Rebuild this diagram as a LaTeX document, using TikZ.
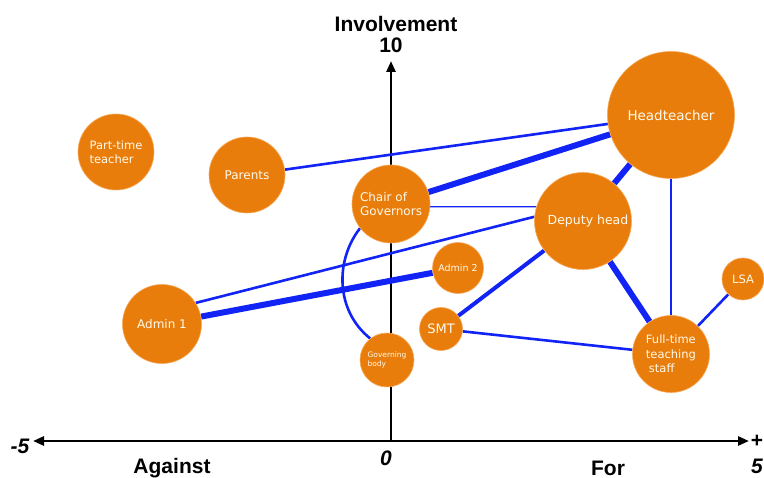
\documentclass[tikz,border=0pt]{standalone}
\usepackage{fontspec}
\newfontfamily\bubblefont{DejaVu Sans}
\newfontfamily\axisfont{Liberation Sans}
\usetikzlibrary{arrows.meta,backgrounds}
\definecolor{bubble}{RGB}{233,125,12}
\definecolor{bubbleedge}{RGB}{245,170,90}
\definecolor{tie}{RGB}{18,36,245}
\definecolor{bubbletext}{RGB}{255,250,235}
\tikzset{
  stake/.style={circle,fill=bubble,draw=bubbleedge,line width=0.6pt,inner sep=0pt,
    text=bubbletext,align=left,font=\bubblefont\fontsize{#1}{14.5}\selectfont},
  stake/.default=12,
  axlab/.style={font=\axisfont\bfseries\fontsize{21}{22}\selectfont,inner sep=0pt},
  axnum/.style={font=\axisfont\bfseries\itshape\fontsize{21}{22}\selectfont,inner sep=0pt},
  axisline/.style={line width=2.6pt,black},
  axtip/.style={-{Triangle[length=11pt,width=9pt]}},
  weak/.style={tie,line width=1.2pt},
  mid/.style={tie,line width=2.6pt},
  firm/.style={tie,line width=4pt},
  strong/.style={tie,line width=6pt},
}
\begin{document}
\begin{tikzpicture}[x=1pt,y=-1pt]
\useasboundingbox (0,0) rectangle (764,478);

% stakeholders, placed by support (x) and involvement (y)
\node[stake=11.5,minimum size=76pt] (ptt) at (116,152) {Part-time\\teacher};
\node[stake=12,minimum size=76pt] (par) at (247,175) {Parents};
\node[stake=12,minimum size=78pt] (cog) at (391,204) {Chair of\\Governors};
\node[stake=9.5,minimum size=51pt] (ad2) at (458,268) {Admin 2};
\node[stake=13,minimum size=43pt] (smt) at (441,329) {SMT};
\node[stake,minimum size=54pt,font=\bubblefont\fontsize{7.5}{8.5}\selectfont] (gov) at (387,360) {Governing\\body};
\node[stake=12,minimum size=79pt] (ad1) at (162,324) {Admin 1};
\node[stake=13.5,minimum size=127pt] (ht) at (671,115) {Headteacher};
\node[stake=12.5,minimum size=97pt] (dep) at (583,221) {\hspace{10pt}Deputy head};
\node[stake=11.5,minimum size=42pt] (lsa) at (743,279) {LSA};
\node[stake=11.5,minimum size=77pt] (fts) at (671,354) {Full-time\\teaching\\\hspace{3pt}staff};

% axis labels
\node[axlab] (inv) at (396,24) {Involvement};
\node[axlab] (ten) at (391,45) {10};
\node[axnum] (lo) at (20,446) {-5};
\node[axnum] (zero) at (386,458) {0};
\node[axlab] (plus) at (757,441) {+};
\node[axnum] (hi) at (757,466) {5};
\node[axlab] (against) at (172,468) {Against};
\node[axlab] (for) at (608,468) {For};

\coordinate (xlo) at (33,441);
\coordinate (xhi) at (749,441);
\coordinate (origin) at (391,441);
\coordinate (ytop) at (391,61);

\begin{pgfonlayer}{background}
  % axes
  \draw[axisline,{Triangle[length=11pt,width=9pt]}-{Triangle[length=11pt,width=9pt]}] (xlo) -- (xhi);
  \draw[axisline,axtip] (origin) -- (ytop);
  % relationships
  \draw[mid] (par) -- (ht);
  \draw[strong] (cog) -- (ht);
  \draw[weak] (cog.-4) -- (dep.163);
  \draw[mid] (ad1.32) -- (dep.175);
  \draw[strong] (ad1) -- (ad2);
  \draw[mid] (cog.218) .. controls +(-25,32) and +(-35,-28) .. (gov.128);
  \draw[strong] (dep) -- (ht);
  \draw[firm] (dep) -- (smt);
  \draw[strong] (dep) -- (fts);
  \draw[weak] (ht) -- (fts);
  \draw[mid] (smt) -- (fts);
  \draw[mid] (lsa) -- (fts);
\end{pgfonlayer}
\end{tikzpicture}
\end{document}
